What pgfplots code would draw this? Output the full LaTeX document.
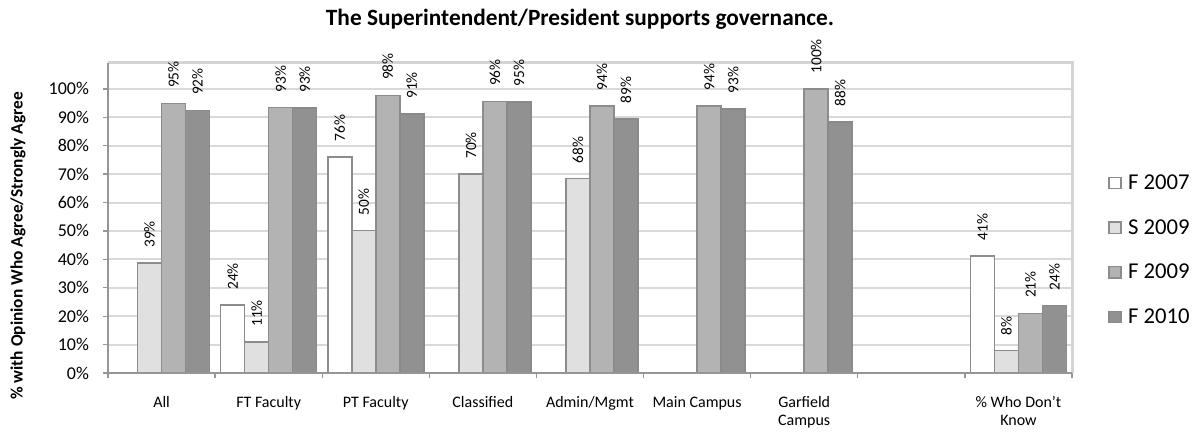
\documentclass[border=0pt]{standalone}
\usepackage{fontspec}
\setmainfont{Carlito}
\usepackage{pgfplots}
\pgfplotsset{compat=1.18}
\definecolor{c07}{RGB}{255,255,255}
\definecolor{c09s}{RGB}{224,224,224}
\definecolor{c09f}{RGB}{179,179,179}
\definecolor{c10}{RGB}{145,145,145}
\definecolor{bord}{RGB}{140,140,140}
\definecolor{gridc}{RGB}{217,217,217}
\definecolor{axc}{RGB}{150,150,150}
\definecolor{boxc}{RGB}{212,212,212}
\begin{document}
\begin{tikzpicture}
\begin{axis}[
  at={(0pt,0pt)}, anchor=south west,
  scale only axis, width=723pt, height=232.7pt,
  xmin=-0.5, xmax=8.5, ymin=0, ymax=109.2,
  clip=false,
  ybar=0pt, bar width=18pt,
  /pgf/number format/assume math mode=true,
  /pgf/number format/fixed, /pgf/number format/precision=0,
  xtick={0,...,8},
  xticklabels={All, FT Faculty, PT Faculty, Classified, Admin/Mgmt, Main Campus, Garfield\\Campus, {}, \% Who Don't\\Know},
  xticklabel style={align=center, font=\fontsize{12}{13.5}\selectfont, yshift=-10pt},
  major x tick style={draw=none},
  minor xtick={-0.5,0.5,...,8.5},
  minor x tick style={draw=axc, line width=1pt},
  ytick={0,10,...,100},
  yticklabel={\pgfmathprintnumber{\tick}\%},
  yticklabel style={font=\fontsize{13.5}{16}\selectfont, xshift=-7pt},
  ytick style={draw=axc, line width=1pt},
  tick align=outside, tick pos=left,
  major tick length=3.75pt, minor tick length=3.75pt,
  ymajorgrids, grid style={draw=gridc, line width=1.5pt},
  axis line style={draw=none},
  ylabel={\% with Opinion Who Agree/Strongly Agree},
  ylabel style={at={(axis description cs:-0.0934,0.409)}, anchor=center, font=\bfseries\fontsize{13}{15}\selectfont},
  title={The Superintendent/President supports governance.},
  title style={at={(axis description cs:0.4896,1.115)}, anchor=center, font=\bfseries\fontsize{17.5}{20}\selectfont},
  nodes near coords={\pgfmathprintnumber{\pgfplotspointmeta}\%},
  every node near coord/.append style={rotate=90, anchor=west, inner xsep=11pt, font=\fontsize{11.5}{13}\selectfont, black},
  legend style={at={(axis description cs:1.0373,0.3964)}, anchor=west, draw=none, fill=none,
     font=\fontsize{17}{20}\selectfont, inner sep=0pt, row sep=21pt, column sep=5pt,
     nodes={inner sep=0pt}},
  legend cell align=left,
  legend image code/.code={\draw[#1, line width=1pt] (0pt,-4.25pt) rectangle (9pt,4.25pt);},
]
\addplot[fill=c07, draw=bord, line width=1.2pt] coordinates {(1,23.9) (2,76.1) (8,41.2)};
\addplot[fill=c09s, draw=bord, line width=1.2pt] coordinates {(0,38.7) (1,10.9) (2,50.1) (3,70.0) (4,68.4) (8,7.9)};
\addplot[fill=c09f, draw=bord, line width=1.2pt] coordinates {(0,94.9) (1,93.4) (2,97.7) (3,95.6) (4,94.0) (5,94.0) (6,100.0) (8,21.0)};
\addplot[fill=c10, draw=c10!95!black, line width=1.2pt] coordinates {(0,92.4) (1,93.2) (2,91.1) (3,95.4) (4,89.4) (5,93.0) (6,88.4) (8,23.7)};
\legend{F 2007, S 2009, F 2009, F 2010}
\draw[boxc, line width=2.25pt] (rel axis cs:0,1) -- (rel axis cs:1,1) -- (rel axis cs:1,0);
\draw[axc, line width=2pt] (rel axis cs:0,1) -- (rel axis cs:0,0) -- (rel axis cs:1,0);
\end{axis}
\pgfresetboundingbox
\useasboundingbox (-81pt,-45.75pt) rectangle (822pt,279.75pt);
\end{tikzpicture}
\end{document}
